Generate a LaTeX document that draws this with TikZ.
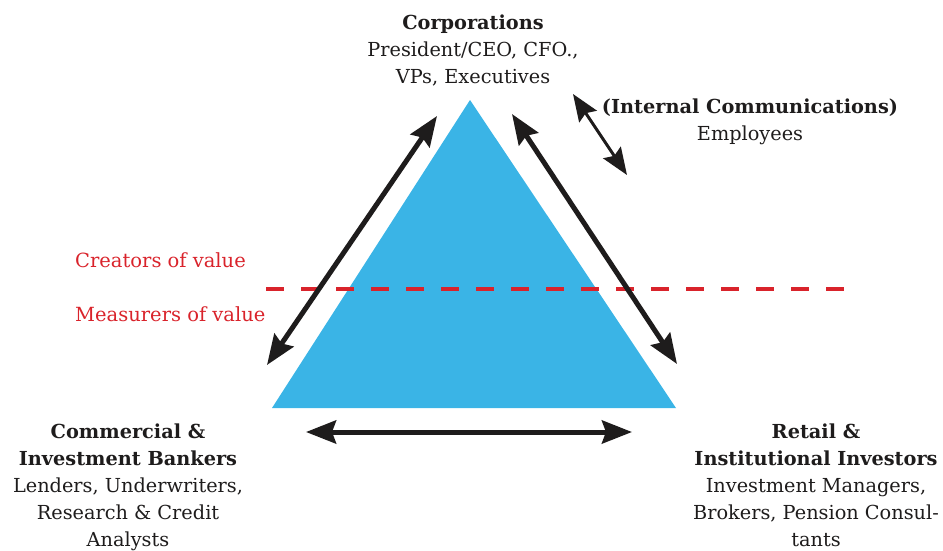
\documentclass[tikz,border=0pt]{standalone}
\usepackage{fontspec}
\setmainfont{DejaVu Serif}
\usetikzlibrary{arrows.meta}
\definecolor{pyramid}{RGB}{58,180,230}
\definecolor{valuered}{RGB}{217,35,43}
\definecolor{ink}{RGB}{30,28,28}

\begin{document}
\begin{tikzpicture}[x=1pt,y=-1pt,
  txt/.style={align=center, inner sep=0pt, anchor=base, text=ink,
    font=\fontsize{19.3}{27}\selectfont},
  redtxt/.style={inner sep=0pt, anchor=base west, text=valuered,
    font=\fontsize{19.5}{27}\selectfont},
  tip/.tip={Stealth[length=30pt,width=23pt,inset=4pt]},
  smalltip/.tip={Stealth[length=27pt,width=21pt,inset=4pt]},
  flow/.style={line width=5pt, draw=ink, tip-tip},
  thinflow/.style={line width=3pt, draw=ink, smalltip-smalltip},
  divider/.style={draw=valuered, line width=4.5pt, dash pattern=on 18pt off 17pt},
]
\useasboundingbox (0,0) rectangle (943,550);

% corners of the pyramid
\coordinate (apex) at (470,100);
\coordinate (bl) at (272,408);
\coordinate (br) at (676,408);
\fill[pyramid] (apex) -- (br) -- (bl) -- cycle;

% creators / measurers divider
\coordinate (divL) at (266,289);
\coordinate (divR) at (848,289);
\draw[divider] (divL) -- (divR);
\node[redtxt] (creators) at (75,267) {Creators of value};
\node[redtxt] (measurers) at (75,321) {Measurers of value};

% arrow end points
\coordinate (lA) at (267,365);
\coordinate (lB) at (437,116);
\coordinate (rA) at (512,114);
\coordinate (rB) at (677,364);
\coordinate (bA) at (306,432);
\coordinate (bB) at (632,432);
\coordinate (iA) at (573,94);
\coordinate (iB) at (627,175);

\draw[flow] (lA) -- (lB);
\draw[flow] (rA) -- (rB);
\draw[flow] (bA) -- (bB);
\draw[thinflow] (iA) -- (iB);

% group labels (anchored at the baseline of the last line)
\node[txt] (corp) at (473,83) {\textbf{Corporations}\\President/CEO, CFO.,\\VPs, Executives};
\node[txt] (internal) at (750,140) {\textbf{(Internal Communications)}\\Employees};
\node[txt] (bankers) at (128,546) {\textbf{Commercial \&}\\\textbf{Investment Bankers}\\Lenders, Underwriters,\\Research \& Credit\\Analysts};
\node[txt] (investors) at (816,546) {\textbf{Retail \&}\\\textbf{Institutional Investors}\\Investment Managers,\\Brokers, Pension Consul-\\tants};
\end{tikzpicture}
\end{document}
